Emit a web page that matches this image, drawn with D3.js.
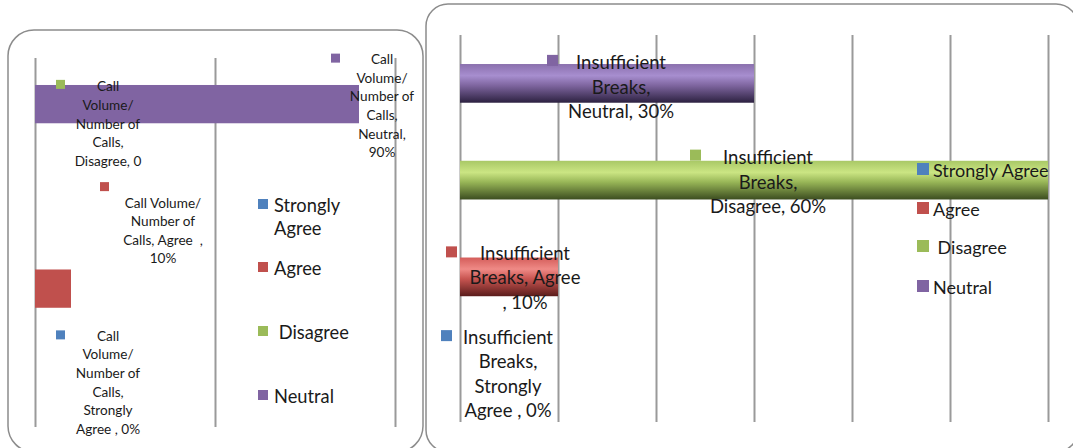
<!DOCTYPE html>
<html><head><meta charset="utf-8">
<script src="https://cdn.jsdelivr.net/npm/d3@7/dist/d3.min.js"></script>
<style>
html,body{margin:0;padding:0;background:#fff;}
svg{display:block;font-family:Lato, "Open Sans", sans-serif;}
</style></head>
<body>
<svg id="c" width="1073" height="448"></svg>
<script>
// ---- DATA ----
const categories = ["Strongly Agree", "Agree", "Disagree", "Neutral"];
const legendLabels = ["Strongly Agree", "Agree", " Disagree", "Neutral"];
const callVolumeValues = [0, 10, 0, 90];
const breaksValues = [0, 10, 60, 30];
const callVolumeTicks = [0, 50, 100];
const breaksTicks = [0, 10, 20, 30, 40, 50, 60];
const callVolumeLabels = [
  ["Call", "Volume/", "Number of", "Calls,", "Strongly", "Agree , 0%"],
  ["Call Volume/", "Number of", "Calls, Agree  ,", "10%"],
  ["Call", "Volume/", "Number of", "Calls,", "Disagree, 0"],
  ["Call", "Volume/", "Number of", "Calls,", "Neutral,", "90%"]
];
const breaksLabels = [
  ["Insufficient", "Breaks,", "Strongly", "Agree , 0%"],
  ["Insufficient", "Breaks, Agree", ", 10%"],
  ["Insufficient", "Breaks,", "Disagree, 60%"],
  ["Insufficient", "Breaks,", "Neutral, 30%"]
];

// ---- STYLE / LAYOUT ----
const colors = {"Strongly Agree":"#4F81BD","Agree":"#C0504D","Disagree":"#9BBB59","Neutral":"#8064A2"};
const grads = {
  "Agree":   ["#d45d5a","#ef8a86","#c85551","#5a1c1b"],
  "Disagree":["#a9c866","#cbe583","#98b657","#3c4d20"],
  "Neutral": ["#8a70ad","#a78ecf","#7f66a0","#2c2140"]
};
const svg = d3.select("#c");
const defs = svg.append("defs");
Object.entries(grads).forEach(([k, c]) => {
  const g = defs.append("linearGradient").attr("id", "g" + k)
    .attr("x1", 0).attr("y1", 0).attr("x2", 0).attr("y2", 1);
  [[0, c[0]], [0.3, c[1]], [0.55, c[2]], [1, c[3]]].forEach(([o, col]) =>
    g.append("stop").attr("offset", o).attr("stop-color", col));
});

// panels
svg.append("rect").attr("x", 8).attr("y", 30).attr("width", 415).attr("height", 422)
  .attr("rx", 26).attr("fill", "#fff").attr("stroke", "#8c8c8c").attr("stroke-width", 1.5);
svg.append("rect").attr("x", 426).attr("y", 4).attr("width", 652).attr("height", 448)
  .attr("rx", 22).attr("fill", "#fff").attr("stroke", "#8c8c8c").attr("stroke-width", 1.5);

function drawChart(cfg) {
  const g = svg.append("g");
  const x = d3.scaleLinear().domain(cfg.domain).range(cfg.xr);
  const y = d3.scaleBand().domain(categories.slice().reverse()).range(cfg.yr).paddingInner(cfg.pad).paddingOuter(cfg.pad / 2);
  const axis = d3.axisBottom(x).tickValues(cfg.ticks).tickSize(-(cfg.yr[1] - cfg.yr[0])).tickFormat("");
  const ax = g.append("g").attr("transform", `translate(0,${cfg.yr[1]})`).call(axis);
  ax.select(".domain").remove();
  ax.selectAll(".tick line").attr("stroke", "#9a9a9a").attr("stroke-width", 2);

  const rows = categories.map((c, i) => ({c, v: cfg.values[i], lines: cfg.labels[i], lay: cfg.layout[i]}));
  g.selectAll("rect.bar").data(rows.filter(d => d.v > 0)).join("rect")
    .attr("class", "bar")
    .attr("x", x(0)).attr("y", d => y(d.c))
    .attr("width", d => x(d.v) - x(0)).attr("height", y.bandwidth())
    .attr("fill", d => cfg.gradient ? `url(#g${d.c})` : colors[d.c]);

  const lab = g.selectAll("g.lab").data(rows).join("g").attr("class", "lab")
    .attr("transform", d => `translate(${x(d.v) + d.lay.dx},${y(d.c) + y.bandwidth() / 2 + d.lay.dy})`);
  lab.append("rect")
    .attr("x", d => d.lay.sx).attr("y", d => d.lay.sy - cfg.sq / 2)
    .attr("width", cfg.sq).attr("height", cfg.sq).attr("fill", d => colors[d.c]);
  lab.each(function(d) {
    d3.select(this).selectAll("text").data(d.lines).join("text")
      .attr("x", 0).attr("y", (t, i) => i * cfg.lh)
      .attr("text-anchor", "middle").attr("dominant-baseline", "central")
      .attr("font-size", cfg.fs).attr("fill", "#1a1a1a")
      .style("white-space", "pre").text(t => t);
  });

  const leg = g.append("g").selectAll("g").data(categories).join("g")
    .attr("transform", (c, i) => `translate(${cfg.leg.x},${cfg.leg.ys[i]})`);
  leg.append("rect").attr("x", 0).attr("y", -cfg.leg.sq / 2 - 1).attr("width", cfg.leg.sq).attr("height", cfg.leg.sq)
    .attr("fill", c => colors[c]);
  leg.each(function(c, i) {
    const lines = cfg.leg.wrap[i];
    d3.select(this).selectAll("text").data(lines).join("text")
      .attr("x", cfg.leg.tx).attr("y", (t, j) => j * cfg.leg.lh)
      .attr("dominant-baseline", "central").attr("font-size", cfg.leg.fs)
      .attr("fill", "#1a1a1a").style("white-space", "pre").text(t => t);
  });
}

drawChart({
  values: callVolumeValues, labels: callVolumeLabels, ticks: callVolumeTicks,
  domain: [0, 100], xr: [35, 395], yr: [58, 427], pad: 0.585, gradient: false,
  fs: 13.6, lh: 18.6, sq: 9,
  layout: [
    {dx: 73, dy: -45, sx: -52, sy: -1},
    {dx: 92, dy: -86, sx: -63, sy: -16},
    {dx: 73, dy: -110, sx: -52, sy: -2},
    {dx: 23, dy: -45, sx: -51, sy: -1}
  ],
  leg: {x: 258, ys: [205, 268, 332, 396], sq: 10, tx: 16, fs: 18.3, lh: 23,
        wrap: [["Strongly", "Agree"], ["Agree"], [" Disagree"], ["Neutral"]]}
});

drawChart({
  values: breaksValues, labels: breaksLabels, ticks: breaksTicks,
  domain: [0, 60], xr: [460, 1048], yr: [35, 422], pad: 0.6, gradient: true,
  fs: 18.5, lh: 24.5, sq: 11,
  layout: [
    {dx: 48, dy: -37, sx: -67, sy: -1},
    {dx: -33, dy: -24, sx: -79, sy: -1},
    {dx: -280, dy: -23, sx: -78, sy: -2},
    {dx: -133, dy: -21, sx: -74, sy: -2}
  ],
  leg: {x: 917, ys: [170, 209, 247, 287], sq: 12, tx: 16, fs: 18, lh: 22,
        wrap: [["Strongly Agree"], ["Agree"], [" Disagree"], ["Neutral"]]}
});
</script>
</body></html>
